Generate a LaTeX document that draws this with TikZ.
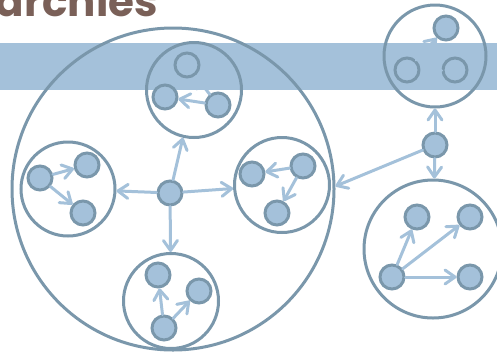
\documentclass[tikz,border=0pt]{standalone}
\usepackage{fontspec}
\setmainfont{Poppins}
\usetikzlibrary{arrows.meta}
\definecolor{bandblue}{RGB}{164,193,218}
\definecolor{ringblue}{RGB}{122,151,171}
\definecolor{titlebrown}{RGB}{122,96,88}
\begin{document}
\begin{tikzpicture}[x=1pt,y=-1pt,
  ring/.style={circle,draw=ringblue,line width=3pt,inner sep=0pt},
  dot/.style={circle,draw=ringblue,fill=bandblue,line width=3pt,minimum size=24pt,inner sep=0pt},
  arr/.style={draw=bandblue,line width=3pt,line cap=round,-{Straight Barb[round,length=10pt,width=14pt]}}]
\useasboundingbox (0,0) rectangle (497,357);
\clip (0,0) rectangle (497,357);
% banner band behind the diagram
\fill[bandblue] (0,43) rectangle (497,90);
\node[anchor=base east,text=titlebrown,inner sep=0pt,
      font=\bfseries\fontsize{42}{42}\selectfont] (title) at (158,16) {Hierarchies};

% large group with four subgroups
\node[ring,minimum size=322pt] (big) at (173,189) {};
\node[ring,minimum size=95pt] (gtop) at (194,90) {};
\node[ring,minimum size=94pt] (gleft) at (68,189) {};
\node[ring,minimum size=95pt] (gright) at (282,185) {};
\node[ring,minimum size=95pt] (gbot) at (171,301) {};

% right-hand groups
\node[ring,minimum size=102pt] (gtr) at (435,56) {};
\node[ring,minimum size=138pt] (gbr) at (433,249) {};

% members
\node[dot] (c) at (170,193) {};
\node[dot] (t1) at (187,65) {};
\node[dot] (t2) at (165,97) {};
\node[dot] (t3) at (218,105) {};
\node[dot] (l1) at (40,178) {};
\node[dot] (l2) at (87,165) {};
\node[dot] (l3) at (83,213) {};
\node[dot] (r1) at (252,174) {};
\node[dot] (r2) at (303,166) {};
\node[dot] (r3) at (277,213) {};
\node[dot] (b1) at (158,275) {};
\node[dot] (b2) at (199,291) {};
\node[dot] (b3) at (164,328) {};
\node[dot] (m) at (435,145) {};
\node[dot] (tr1) at (446,28) {};
\node[dot] (tr2) at (407,70) {};
\node[dot] (tr3) at (455,70) {};
\node[dot] (br1) at (417,217) {};
\node[dot] (br2) at (470,217) {};
\node[dot] (br3) at (392,277) {};
\node[dot] (br4) at (470,277) {};

% connectors
\draw[arr] (c) -- (gtop);
\draw[arr] (c) -- (gleft);
\draw[arr] (c) -- (gright);
\draw[arr] (c) -- (gbot);
\draw[arr] (t3) -- (t2);
\draw[arr] (t3) -- (t1);
\draw[arr] (l1) -- (l2);
\draw[arr] (l1) -- (l3);
\draw[arr] (r2) -- (r1);
\draw[arr] (r2) -- (r3);
\draw[arr] (b3) -- (b1);
\draw[arr] (b3) -- (b2);
\draw[arr] (m) -- (gtr);
\draw[arr] (m) -- (gbr);
\draw[arr] (m) -- (big.1);
\draw[arr] (tr2) -- (tr1);
\draw[arr] (tr3) -- (tr2);
\draw[arr] (br3) -- (br1);
\draw[arr] (br3) -- (br2);
\draw[arr] (br3) -- (br4);
\end{tikzpicture}
\end{document}
